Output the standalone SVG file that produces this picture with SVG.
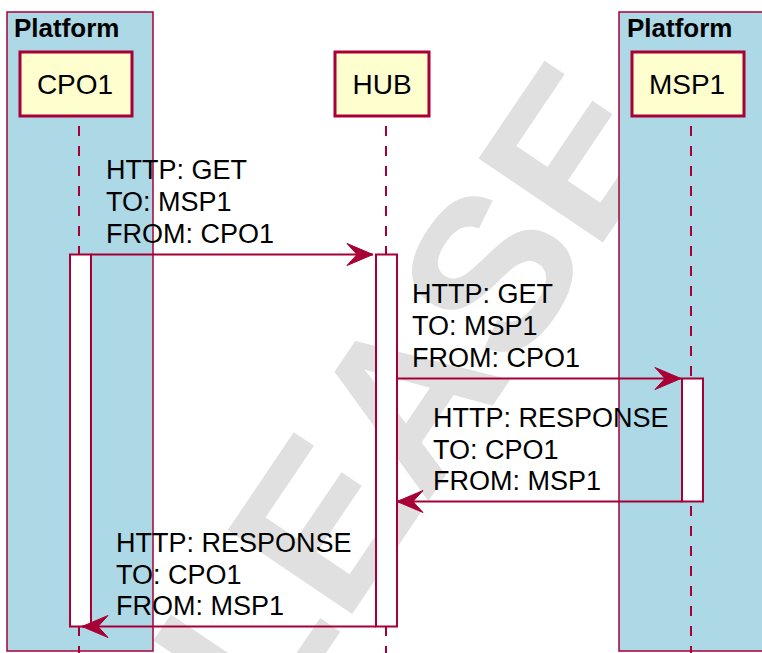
<svg xmlns="http://www.w3.org/2000/svg" width="762" height="653" viewBox="0 0 762 653">
<style>
.wm{font-family:"Liberation Sans",Arial,sans-serif;font-weight:bold;font-size:218px;fill:#e0e0e0}
.box{fill:#ADD8E6;stroke:#A80036;stroke-width:1.5}
.boxt{font-family:"Liberation Sans",Arial,sans-serif;font-weight:bold;font-size:26px;fill:#000}
.part{fill:#FEFECE;stroke:#A80036;stroke-width:3}
.partt{font-family:"Liberation Sans",Arial,sans-serif;font-size:28px;fill:#000;text-anchor:middle}
.life{stroke:#A80036;stroke-width:2;stroke-dasharray:10,10;fill:none}
.act{fill:#FFFFFF;stroke:#A80036;stroke-width:2}
.msg{stroke:#A80036;stroke-width:2;fill:none;marker-end:url(#ah)}
.lbl{font-family:"Liberation Sans",Arial,sans-serif;font-size:27px;fill:#000}
</style>
<defs>
<marker id="ah" markerUnits="userSpaceOnUse" viewBox="-27 -12 28 24" refX="0" refY="0" markerWidth="28" markerHeight="24" orient="auto">
<polygon points="0,0 -26,-11 -16,0 -26,11" fill="#A80036" stroke="#A80036" stroke-width="1"/>
</marker>
</defs>
<rect x="0" y="0" width="762" height="653" fill="#FFFFFF"/>
<g id="watermark">
<text class="wm" transform="translate(344,626) rotate(-56)" x="-436" y="0">RELEASE</text>
</g>
<g id="platform-left">
<rect class="box" x="7" y="12" width="146" height="639"/>
<text class="boxt" x="14" y="37">Platform</text>
</g>
<g id="platform-right">
<rect class="box" x="619" y="12" width="150" height="639"/>
<text class="boxt" x="627" y="37">Platform</text>
</g>
<g id="lifelines">
<line class="life" x1="79" y1="126" x2="79" y2="653"/>
<line class="life" x1="386" y1="126" x2="386" y2="653"/>
<line class="life" x1="691" y1="126" x2="691" y2="653"/>
</g>
<g id="CPO1">
<rect class="part" x="20" y="52" width="112" height="64"/>
<text class="partt" x="75" y="94">CPO1</text>
<rect class="act" x="70" y="254.5" width="21" height="372"/>
</g>
<g id="HUB">
<rect class="part" x="335" y="52" width="94" height="64"/>
<text class="partt" x="382" y="94">HUB</text>
<rect class="act" x="376" y="254.5" width="21" height="372"/>
</g>
<g id="MSP1">
<rect class="part" x="632" y="52" width="112" height="64"/>
<text class="partt" x="687" y="94">MSP1</text>
<rect class="act" x="682" y="378.5" width="21" height="123"/>
</g>
<g id="connectors">
<line class="msg" x1="91" y1="254.5" x2="373" y2="254.5"/>
<line class="msg" x1="397" y1="378.5" x2="681" y2="378.5"/>
<line class="msg" x1="682" y1="501.5" x2="397" y2="501.5"/>
<line class="msg" x1="376" y1="626.5" x2="82" y2="626.5"/>
</g>
<g id="labels">
<text class="lbl" x="106" y="179">HTTP: GET</text>
<text class="lbl" x="106" y="211">TO: MSP1</text>
<text class="lbl" x="106" y="243">FROM: CPO1</text>
<text class="lbl" x="412" y="303">HTTP: GET</text>
<text class="lbl" x="412" y="335">TO: MSP1</text>
<text class="lbl" x="412" y="367">FROM: CPO1</text>
<text class="lbl" x="433" y="427">HTTP: RESPONSE</text>
<text class="lbl" x="433" y="459">TO: CPO1</text>
<text class="lbl" x="433" y="490">FROM: MSP1</text>
<text class="lbl" x="116" y="552">HTTP: RESPONSE</text>
<text class="lbl" x="116" y="584">TO: CPO1</text>
<text class="lbl" x="116" y="615">FROM: MSP1</text>
</g>
</svg>
